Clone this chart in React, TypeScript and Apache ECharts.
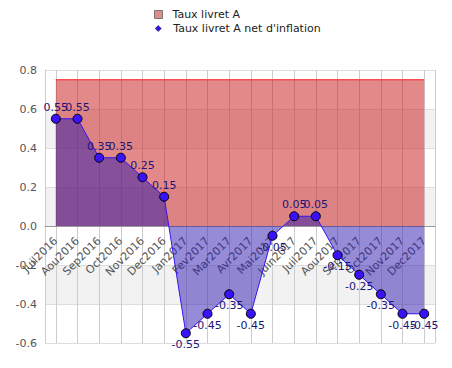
import React, { useEffect, useRef } from "react";
import * as echarts from "echarts";

const categories = ["Juil2016", "Aou2016", "Sep2016", "Oct2016", "Nov2016", "Dec2016", "Jan2017", "Fev2017", "Mar2017", "Avr2017", "Mai2017", "Juin2017", "Juil2017", "Aou2017", "Sep2017", "Oct2017", "Nov2017", "Dec2017"];
const tauxLivretA = [0.75, 0.75, 0.75, 0.75, 0.75, 0.75, 0.75, 0.75, 0.75, 0.75, 0.75, 0.75, 0.75, 0.75, 0.75, 0.75, 0.75, 0.75];
const tauxNet = [0.55, 0.55, 0.35, 0.35, 0.25, 0.15, -0.55, -0.45, -0.35, -0.45, -0.05, 0.05, 0.05, -0.15, -0.25, -0.35, -0.45, -0.45];
const seriesNames = ["Taux livret A", "Taux livret A net d'inflation"];
const yMin = -0.6;
const yMax = 0.8;

export default function App() {
  const ref = useRef<HTMLDivElement>(null);
  useEffect(() => {
    if (!ref.current) return;
    const chart = echarts.init(ref.current, null, { renderer: "svg" });
    const halfSteps = Array.from({ length: categories.length * 2 + 1 }, (_, i) => String(i));
    const last = halfSteps.length - 1;
    const gridTop = 70;
    const gridBottom = 25;
    const plotH = 368 - gridTop - gridBottom;
    const zeroOffset = -(plotH * (0 - yMin)) / (yMax - yMin);
    chart.setOption({
      animation: false,
      textStyle: { fontFamily: "DejaVu Sans" },
      legend: [
        {
          data: [{ name: seriesNames[0], icon: "rect", itemStyle: { color: "#e08a8a", borderColor: "#777", borderWidth: 1 } }],
          left: 149, top: 4, itemWidth: 8, itemHeight: 8,
          textStyle: { fontSize: 11, color: "#222", padding: [0, 0, 0, 5] },
        },
        {
          data: [{ name: seriesNames[1], icon: "diamond", itemStyle: { color: "#3a12f5", borderColor: "#000", borderWidth: 0.5 } }],
          left: 150, top: 18, itemWidth: 6, itemHeight: 6,
          textStyle: { fontSize: 11, color: "#222", padding: [0, 0, 0, 7] },
        },
      ],
      grid: { left: 45, right: 17, top: gridTop, bottom: gridBottom, outerBoundsMode: "none", containLabel: false },
      xAxis: [
        {
          type: "category",
          data: categories,
          boundaryGap: true,
          offset: zeroOffset,
          axisLine: { show: true, onZero: false, lineStyle: { color: "#999" } },
          axisTick: { show: false },
          axisLabel: { rotate: 45, interval: 0, fontSize: 11, color: "#555", margin: 13 },
          splitLine: { show: false },
          z: 1,
        },
        {
          type: "category",
          data: halfSteps,
          boundaryGap: false,
          position: "bottom",
          axisLine: { show: false, onZero: false },
          axisTick: { show: false },
          axisLabel: { show: false },
          splitLine: {
            show: true,
            interval: (i: number) => i % 2 === 1 || i === last,
            lineStyle: { color: "#ccc" },
          },
        },
      ],
      yAxis: {
        type: "value",
        min: yMin,
        max: yMax,
        interval: 0.2,
        axisLine: { show: true, lineStyle: { color: "#ccc" } },
        axisTick: { show: false },
        axisLabel: { fontSize: 11, color: "#555", formatter: (v: number) => v.toFixed(1), margin: 8 },
        splitLine: { lineStyle: { color: "#ddd" } },
        splitArea: { show: true, areaStyle: { color: ["#ffffff", "#f2f2f2"] } },
      },
      series: [
        {
          name: seriesNames[0],
          type: "line",
          data: tauxLivretA,
          symbol: "none",
          lineStyle: { color: "#ff1a1a", width: 1 },
          itemStyle: { color: "#e08a8a" },
          areaStyle: { color: "rgba(200,20,20,0.5)", opacity: 1 },
          z: 2,
        },
        {
          name: seriesNames[1],
          type: "line",
          data: tauxNet.map((v) => ({ value: v, label: { position: v >= 0 ? "top" : "bottom" } })),
          symbol: "circle",
          symbolSize: 9,
          itemStyle: { color: "#3a12f5", borderColor: "#000", borderWidth: 1 },
          lineStyle: { color: "#3a12f5", width: 1 },
          areaStyle: { color: "rgba(43,23,173,0.5)", opacity: 1 },
          label: {
            show: true,
            fontSize: 11,
            color: "#1e1578",
            distance: 1,
            formatter: (p: any) => Number(p.value).toFixed(2),
          },
          z: 3,
        },
      ],
    });
    return () => chart.dispose();
  }, []);
  return <div ref={ref} style={{ position: "absolute", left: 0, top: 0, width: 452, height: 368 }} />;
}
